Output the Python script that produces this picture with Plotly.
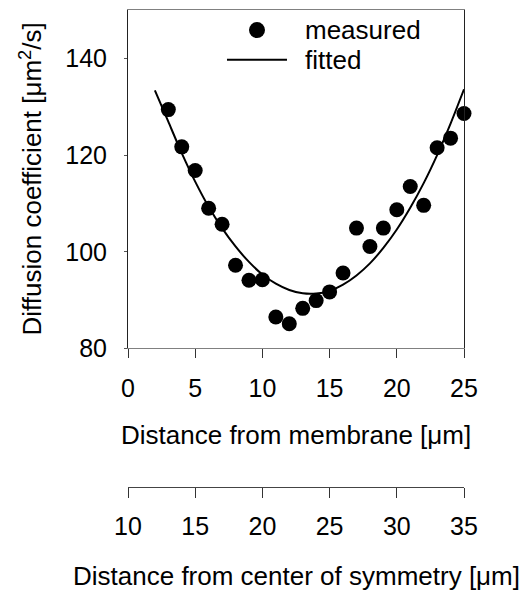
import plotly.graph_objects as go

# Measured diffusion coefficients vs. distance from the membrane
distance_um = [3, 4, 5, 6, 7, 8, 9, 10, 11, 12, 13, 14, 15, 16, 17, 18, 19, 20, 21, 22, 23, 24, 25]
diff_measured = [129.4, 121.7, 116.8, 109.0, 105.7, 97.2, 94.1, 94.2, 86.5, 85.1, 88.3, 89.9,
                 91.7, 95.6, 104.9, 101.1, 104.9, 108.7, 113.5, 109.6, 121.5, 123.5, 128.6]

# Fitted curve
fit_distance_um = [2, 3, 4, 5, 6, 7, 8, 9, 10, 11, 12, 13, 14, 15, 16, 17, 18, 19, 20, 21, 22, 23, 24, 25]
diff_fitted = [133.4, 126.9, 120.4, 114.5, 109.3, 104.9, 101.1, 97.9, 95.3, 93.4, 92.1, 91.4,
               91.35, 91.9, 93.2, 95.1, 97.6, 100.8, 104.6, 109.1, 114.2, 120.0, 126.5, 133.6]

# Tick labels
y_ticks = [80, 100, 120, 140]
x_ticks = [0, 5, 10, 15, 20, 25]
x2_ticks = [10, 15, 20, 25, 30, 35]

FONT = "Liberation Sans, Arial, sans-serif"

fig = go.Figure()
fig.add_trace(go.Scatter(
    x=fit_distance_um, y=diff_fitted, mode="lines",
    line=dict(color="black", width=2, shape="spline", smoothing=0.6),
    showlegend=False, hoverinfo="skip",
))
fig.add_trace(go.Scatter(
    x=distance_um, y=diff_measured, mode="markers",
    marker=dict(color="black", size=15, line=dict(width=0)),
    cliponaxis=False, showlegend=False,
))
# empty trace so the secondary distance axis gets drawn
fig.add_trace(go.Scatter(x=[], y=[], xaxis="x2", yaxis="y", showlegend=False))

fig.update_layout(
    width=528, height=590,
    margin=dict(l=128, r=64, t=10, b=103),
    paper_bgcolor="white", plot_bgcolor="white",
    font=dict(family=FONT, size=25, color="black"),
    showlegend=False,
    xaxis=dict(
        range=[0, 25], tickvals=x_ticks, domain=[0, 1],
        showline=True, linecolor="#808080", linewidth=1, mirror=True,
        ticks="outside", ticklen=9, tickcolor="#333333", tickwidth=1,
        showgrid=False, zeroline=False, ticklabelstandoff=9,
        tickfont=dict(size=25),
    ),
    xaxis2=dict(
        range=[10, 35], tickvals=x2_ticks, overlaying="x", anchor="free",
        position=0, side="bottom",
        showline=True, linecolor="#444444", linewidth=1,
        ticks="outside", ticklen=10, tickcolor="#333333", tickwidth=1,
        showgrid=False, zeroline=False, ticklabelstandoff=7,
        tickfont=dict(size=25),
    ),
    yaxis=dict(
        range=[80, 150], tickvals=y_ticks, domain=[0.2904, 1],
        showline=True, linecolor="#222222", linewidth=1, mirror=True,
        ticks="outside", ticklen=3, tickcolor="#555555", tickwidth=1,
        showgrid=False, zeroline=False, ticklabelstandoff=12,
        tickfont=dict(size=25),
    ),
)

# Axis titles
fig.add_annotation(text="Distance from membrane [μm]", xref="paper", yref="paper",
                   x=0.501, y=0.110, showarrow=False, xanchor="center", yanchor="middle",
                   font=dict(size=26))
fig.add_annotation(text="Distance from center of symmetry [μm]", xref="paper", yref="paper",
                   x=0.5, y=-0.1857, showarrow=False, xanchor="center", yanchor="middle",
                   font=dict(size=26))
fig.add_annotation(text="Diffusion coefficient [μm<sup>2</sup>/s]", xref="paper", yref="paper",
                   x=-0.2887, y=0.6468, showarrow=False, xanchor="center", yanchor="middle",
                   textangle=-90, font=dict(size=26))

# Legend
LEG_X = 0.3839
fig.add_shape(type="circle", xref="paper", yref="paper",
              xsizemode="pixel", ysizemode="pixel", xanchor=LEG_X, yanchor=0.958,
              x0=-8, x1=8, y0=-8, y1=8, fillcolor="black", line=dict(width=0))
fig.add_shape(type="line", xref="paper", yref="paper",
              xsizemode="pixel", xanchor=LEG_X, x0=-30, x1=30, y0=0.8956, y1=0.8956,
              line=dict(color="black", width=2))
fig.add_annotation(text="measured", xref="paper", yref="paper", x=0.5223, y=0.958,
                   showarrow=False, xanchor="left", yanchor="middle", font=dict(size=26))
fig.add_annotation(text="fitted", xref="paper", yref="paper", x=0.5223, y=0.8956,
                   showarrow=False, xanchor="left", yanchor="middle", font=dict(size=26))

fig.write_html("out.html")
